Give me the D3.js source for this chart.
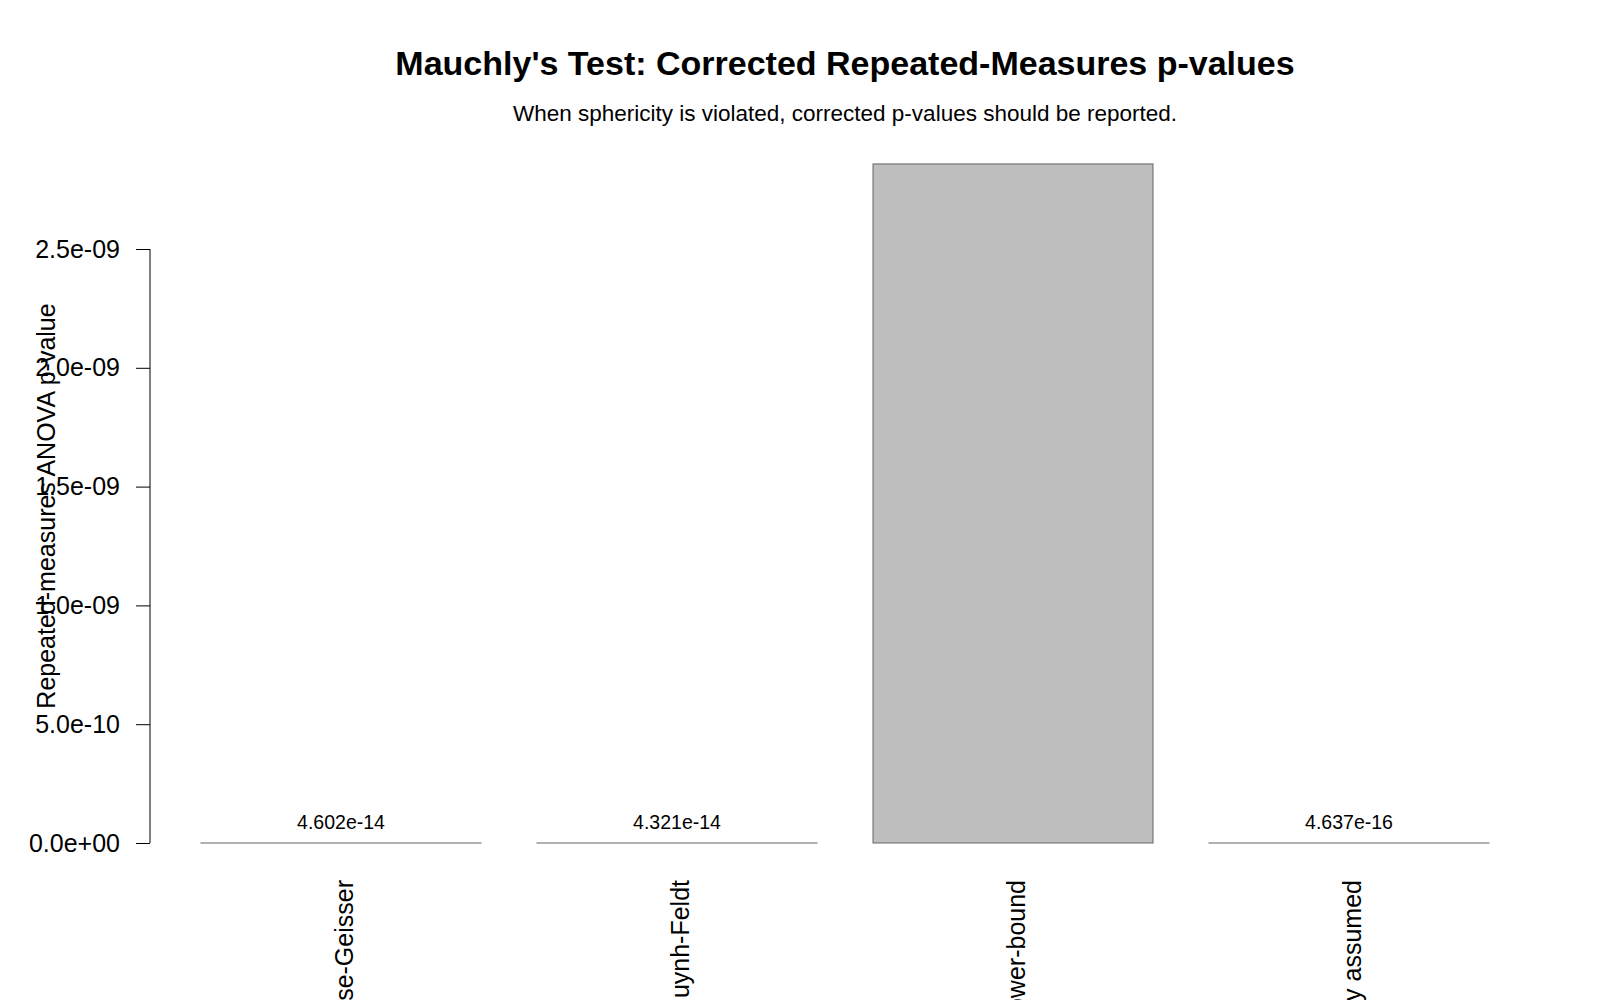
<!DOCTYPE html>
<html>
   <head>
      <script src="https://d3js.org/d3.v7.min.js"></script>
   </head>
   <style>
      body { margin: 0; background: #fff; }
      text { font-family: 'Liberation Sans', Arial, sans-serif; }
   </style>
   <body>
      <script>
         let [width, height] = [1600, 1000];

         // chart data
         let methods = ['Greenhouse-Geisser', 'Huynh-Feldt', 'Lower-bound', 'Sphericity assumed'];
         let pValues = [4.602e-14, 4.321e-14, 2.858e-09, 4.637e-16];
         let valueLabels = ['4.602e-14', '4.321e-14', '', '4.637e-16'];
         let yTicks = [0, 5e-10, 1e-09, 1.5e-09, 2e-09, 2.5e-09];
         let yTickLabels = ['0.0e+00', '5.0e-10', '1.0e-09', '1.5e-09', '2.0e-09', '2.5e-09'];

         let svg = d3.select('body').append('svg')
            .attr('width', width).attr('height', height);

         let x = d3.scaleBand().domain(methods).range([173, 1517])
            .paddingInner(1 / 6).paddingOuter(1 / 12);
         let y = d3.scaleLinear().domain([0, 2.5e-09]).range([843, 249]);

         // title + subtitle
         svg.append('text')
            .attr('x', 845).attr('y', 75)
            .attr('text-anchor', 'middle')
            .style('font-size', '34px').style('font-weight', 'bold')
            .text("Mauchly's Test: Corrected Repeated-Measures p-values");
         svg.append('text')
            .attr('x', 845).attr('y', 121)
            .attr('text-anchor', 'middle')
            .style('font-size', '22.5px')
            .text('When sphericity is violated, corrected p-values should be reported.');

         // bars
         svg.selectAll('.bar')
            .data(pValues)
            .enter()
            .append('rect')
               .attr('class', 'bar')
               .attr('x', (d, i) => x(methods[i]))
               .attr('y', (d) => y(d))
               .attr('width', x.bandwidth())
               .attr('height', (d) => y(0) - y(d))
               .attr('fill', '#bebebe')
               .attr('stroke', '#666666')
               .attr('stroke-width', 1);

         // value labels (the tall one is clipped away in the original)
         svg.selectAll('.vlabel')
            .data(pValues)
            .enter()
            .append('text')
               .attr('x', (d, i) => x(methods[i]) + x.bandwidth() / 2)
               .attr('y', (d) => y(d) - 14)
               .attr('text-anchor', 'middle')
               .style('font-size', '19.5px')
               .text((d, i) => valueLabels[i]);

         // y axis
         let yAxis = d3.axisLeft(y).tickValues(yTicks)
            .tickFormat((d, i) => yTickLabels[i]).tickSize(14).tickPadding(16);
         let gy = svg.append('g').attr('transform', 'translate(150,0)').call(yAxis);
         gy.select('.domain').attr('d', `M0,${y(0)}V${y(2.5e-09)}`).attr('stroke', '#000');
         gy.selectAll('.tick line').attr('stroke', '#000');
         gy.selectAll('.tick text')
            .style('font-size', '25px')
            .style('font-family', "'Liberation Sans', Arial, sans-serif")
            .attr('fill', '#000');

         // x category labels, rotated
         svg.selectAll('.xlabel')
            .data(methods)
            .enter()
            .append('text')
               .attr('transform', (d) => `translate(${x(d) + x.bandwidth() / 2 + 12},880) rotate(-90)`)
               .attr('text-anchor', 'end')
               .style('font-size', '25px')
               .text((d) => d);

         // y axis title
         svg.append('text')
            .attr('transform', 'translate(55,506) rotate(-90)')
            .attr('text-anchor', 'middle')
            .style('font-size', '25px')
            .text('Repeated-measures ANOVA p-value');
      </script>
   </body>
</html>
